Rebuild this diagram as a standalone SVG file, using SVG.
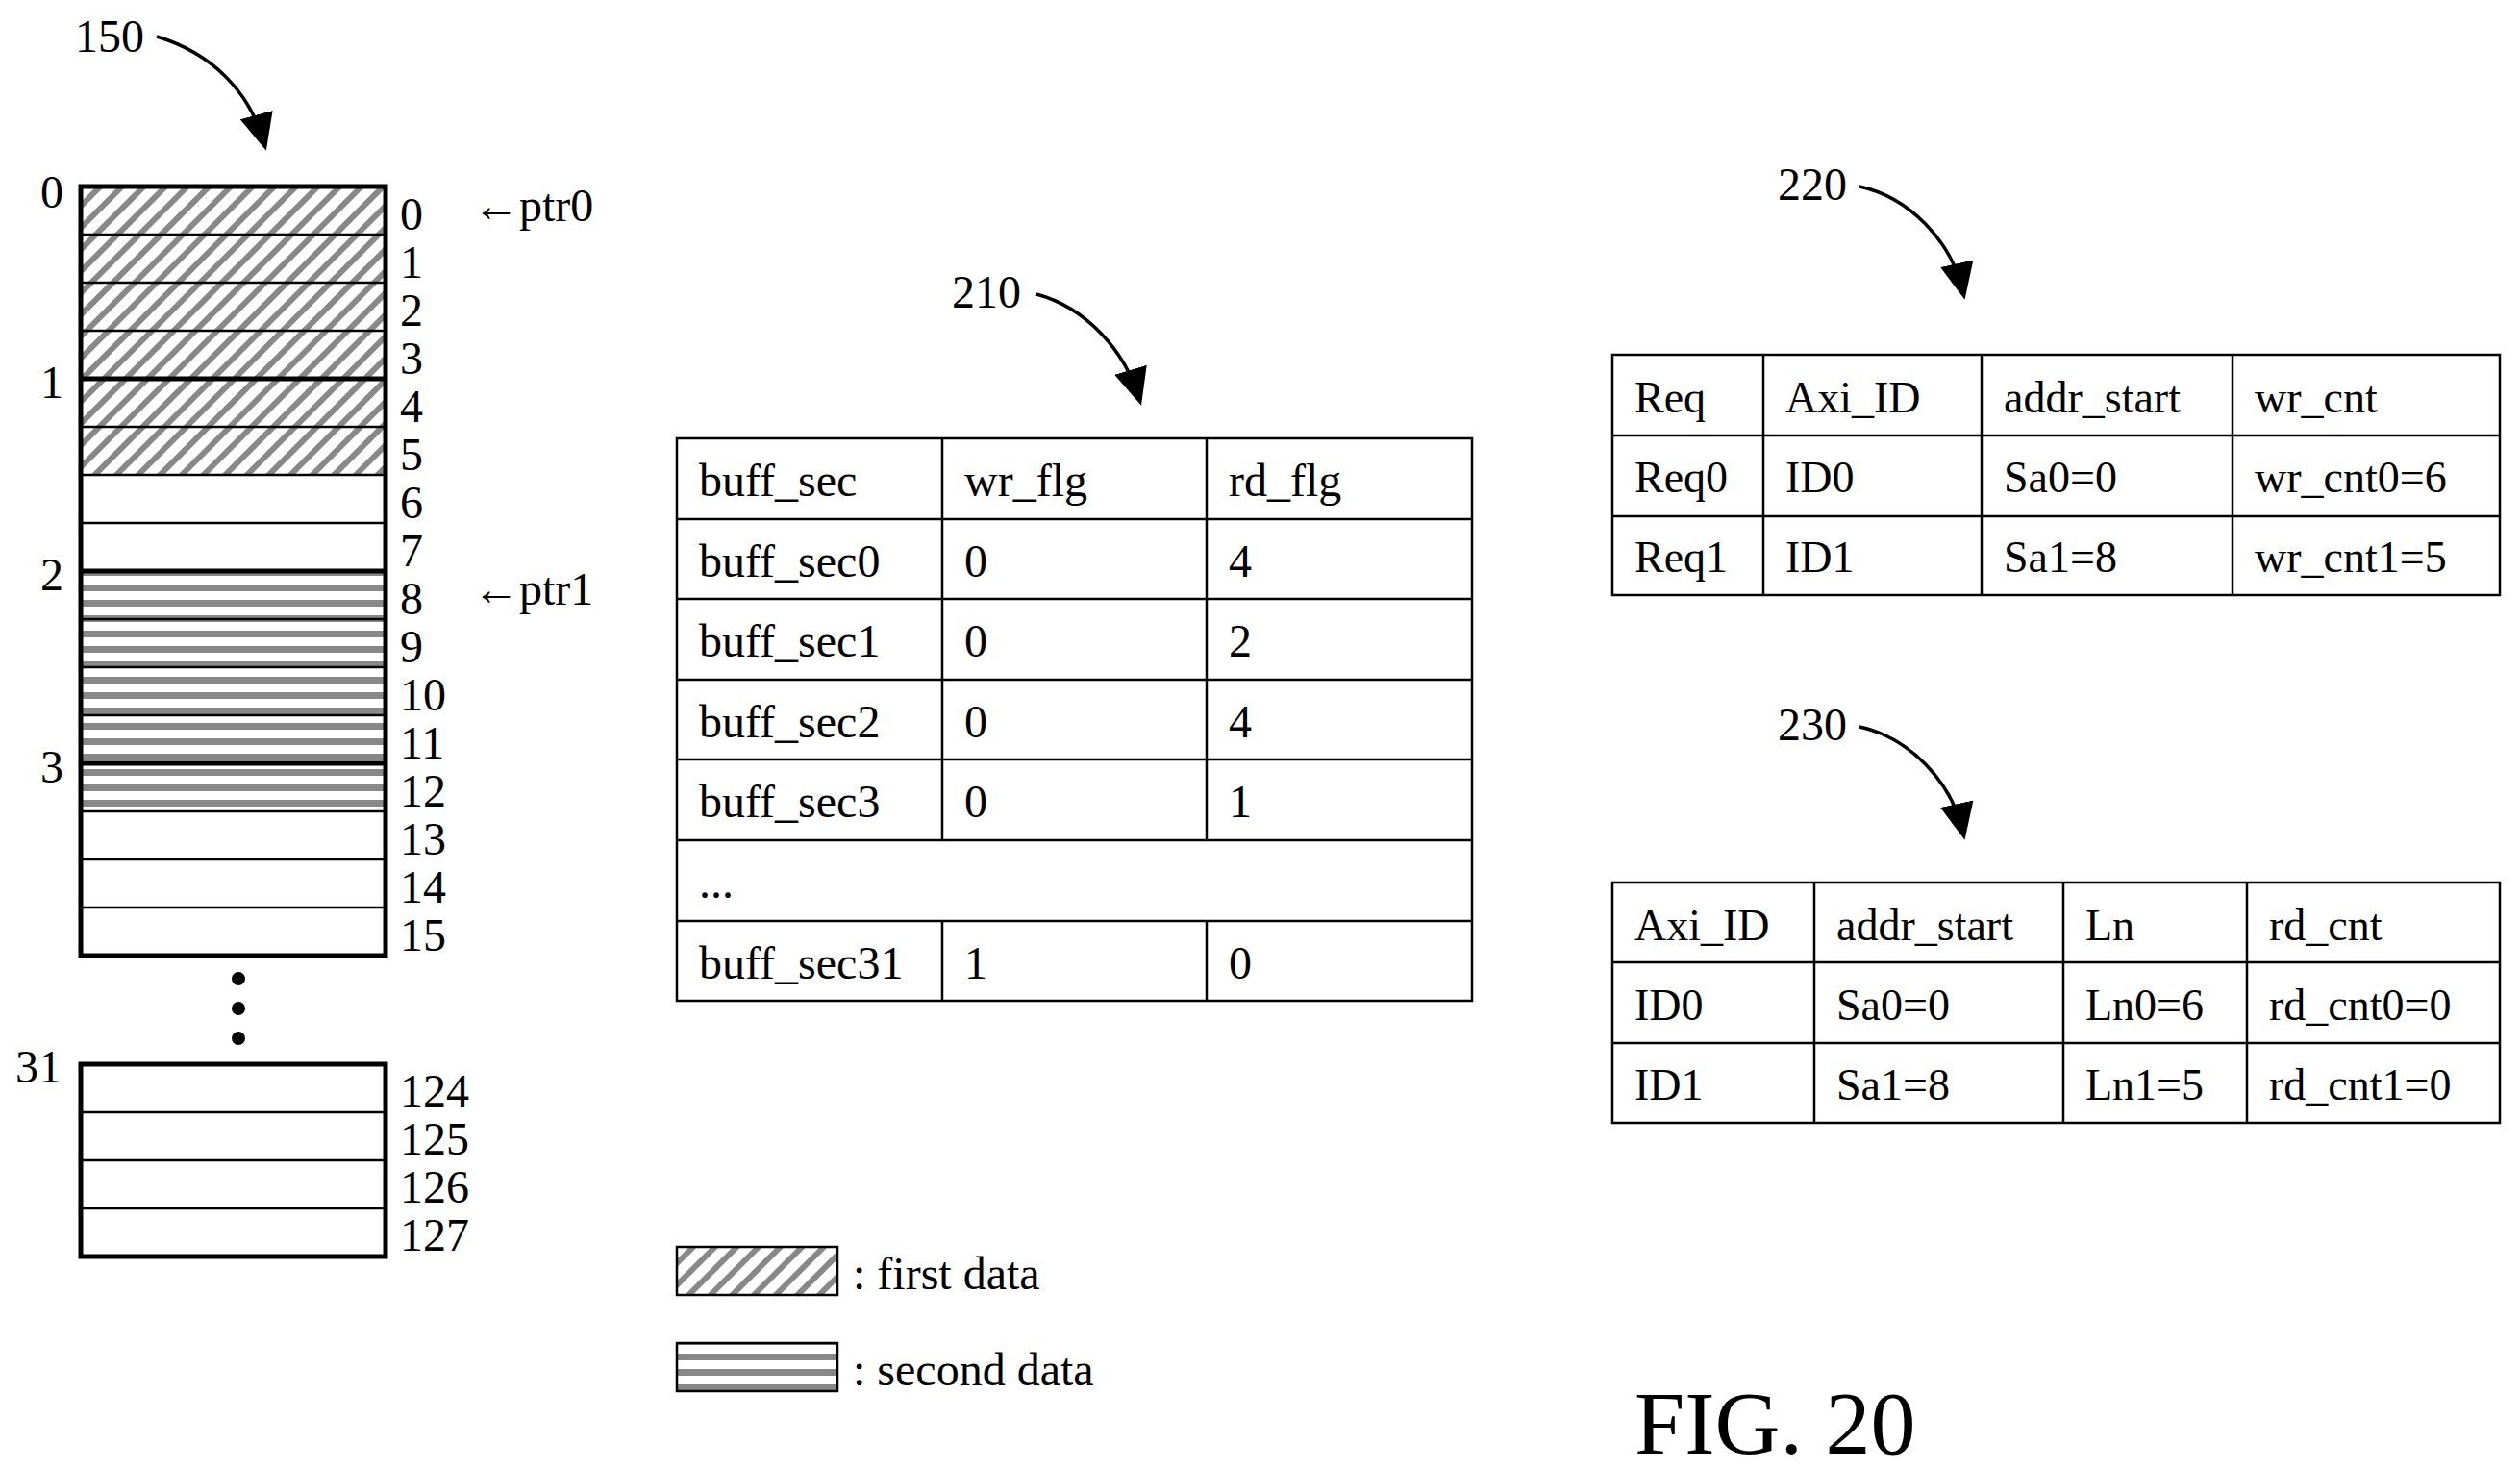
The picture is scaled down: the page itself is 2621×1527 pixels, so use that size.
<svg xmlns="http://www.w3.org/2000/svg" width="2621" height="1527" viewBox="0 0 2621 1527">
<style>
text{font-family:"Liberation Serif","Times New Roman",serif;fill:#000}
.t{font-size:48px}
.s{font-size:46px}
.cell{fill:none;stroke:#000;stroke-width:2.5}
.thin{stroke:#000;stroke-width:2.5}
.thick{stroke:#000;stroke-width:5}
.lead{fill:none;stroke:#000;stroke-width:3.5}
</style>
<defs>
<pattern id="diag" width="16" height="16" patternUnits="userSpaceOnUse" patternTransform="rotate(45)">
<rect width="16" height="16" fill="#fff"/><rect x="0" y="0" width="6" height="16" fill="#888"/>
</pattern>
<pattern id="horz" width="16" height="16" patternUnits="userSpaceOnUse">
<rect width="16" height="16" fill="#fff"/><rect x="0" y="0" width="16" height="7" fill="#888"/>
</pattern>
<marker id="ah" markerWidth="11" markerHeight="10" refX="9" refY="5" orient="auto" markerUnits="strokeWidth">
<path d="M0,0 L11,5 L0,10 Z" fill="#000"/>
</marker>
</defs>
<rect width="2621" height="1527" fill="#fff"/>

<g id="connectors">
<path class="lead" d="M163,38 C220,55 260,95 275,150" marker-end="url(#ah)"/>
<path class="lead" d="M1078,306 C1130,320 1170,365 1185,415" marker-end="url(#ah)"/>
<path class="lead" d="M1934,194 C1985,205 2030,250 2042,305" marker-end="url(#ah)"/>
<path class="lead" d="M1934,756 C1985,767 2030,812 2042,867" marker-end="url(#ah)"/>
</g>

<g id="memory150">
<text class="t" x="78" y="54">150</text>
<rect x="84" y="194" width="317" height="300" fill="url(#diag)"/>
<rect x="84" y="594" width="317" height="250" fill="url(#horz)"/>
<g>
<line class="thin" x1="84" y1="244" x2="401" y2="244"/>
<line class="thin" x1="84" y1="294" x2="401" y2="294"/>
<line class="thin" x1="84" y1="344" x2="401" y2="344"/>
<line class="thick" x1="84" y1="394" x2="401" y2="394"/>
<line class="thin" x1="84" y1="444" x2="401" y2="444"/>
<line class="thin" x1="84" y1="494" x2="401" y2="494"/>
<line class="thin" x1="84" y1="544" x2="401" y2="544"/>
<line class="thick" x1="84" y1="594" x2="401" y2="594"/>
<line class="thin" x1="84" y1="644" x2="401" y2="644"/>
<line class="thin" x1="84" y1="694" x2="401" y2="694"/>
<line class="thin" x1="84" y1="744" x2="401" y2="744"/>
<line class="thick" x1="84" y1="794" x2="401" y2="794"/>
<line class="thin" x1="84" y1="844" x2="401" y2="844"/>
<line class="thin" x1="84" y1="894" x2="401" y2="894"/>
<line class="thin" x1="84" y1="944" x2="401" y2="944"/>
</g>
<rect x="84" y="194" width="317" height="800" fill="none" stroke="#000" stroke-width="5"/>
<g class="t">
<text x="42" y="216">0</text><text x="42" y="414">1</text><text x="42" y="614">2</text><text x="42" y="814">3</text><text x="16" y="1126">31</text>
<text x="416" y="239">0</text><text x="416" y="289">1</text><text x="416" y="339">2</text><text x="416" y="389">3</text>
<text x="416" y="439">4</text><text x="416" y="489">5</text><text x="416" y="539">6</text><text x="416" y="589">7</text>
<text x="416" y="639">8</text><text x="416" y="689">9</text><text x="416" y="739">10</text><text x="416" y="789">11</text>
<text x="416" y="839">12</text><text x="416" y="889">13</text><text x="416" y="939">14</text><text x="416" y="989">15</text>
<text x="416" y="1151">124</text><text x="416" y="1201">125</text><text x="416" y="1251">126</text><text x="416" y="1301">127</text>
<text x="492" y="230">←ptr0</text><text x="492" y="629">←ptr1</text>
</g>
<circle cx="248" cy="1018" r="7"/><circle cx="248" cy="1049" r="7"/><circle cx="248" cy="1080" r="7"/>
<line class="thin" x1="84" y1="1157" x2="401" y2="1157"/>
<line class="thin" x1="84" y1="1207" x2="401" y2="1207"/>
<line class="thin" x1="84" y1="1257" x2="401" y2="1257"/>
<rect x="84" y="1107" width="317" height="200" fill="none" stroke="#000" stroke-width="5"/>
</g>

<g id="table210">
<text class="t" x="990" y="320">210</text>
<rect class="cell" x="704" y="456" width="827" height="585"/>
<line class="thin" x1="704" y1="540" x2="1531" y2="540"/>
<line class="thin" x1="704" y1="623" x2="1531" y2="623"/>
<line class="thin" x1="704" y1="707" x2="1531" y2="707"/>
<line class="thin" x1="704" y1="790" x2="1531" y2="790"/>
<line class="thin" x1="704" y1="874" x2="1531" y2="874"/>
<line class="thin" x1="704" y1="958" x2="1531" y2="958"/>
<line class="thin" x1="980" y1="456" x2="980" y2="874"/><line class="thin" x1="980" y1="958" x2="980" y2="1041"/>
<line class="thin" x1="1255" y1="456" x2="1255" y2="874"/><line class="thin" x1="1255" y1="958" x2="1255" y2="1041"/>
<g class="t">
<text x="727" y="516">buff_sec</text><text x="1003" y="516">wr_flg</text><text x="1278" y="516">rd_flg</text>
<text x="727" y="600">buff_sec0</text><text x="1003" y="600">0</text><text x="1278" y="600">4</text>
<text x="727" y="683">buff_sec1</text><text x="1003" y="683">0</text><text x="1278" y="683">2</text>
<text x="727" y="767">buff_sec2</text><text x="1003" y="767">0</text><text x="1278" y="767">4</text>
<text x="727" y="850">buff_sec3</text><text x="1003" y="850">0</text><text x="1278" y="850">1</text>
<text x="727" y="934">...</text>
<text x="727" y="1018">buff_sec31</text><text x="1003" y="1018">1</text><text x="1278" y="1018">0</text>
</g>
</g>

<g id="table220">
<text class="t" x="1849" y="208">220</text>
<rect class="cell" x="1677" y="369" width="923" height="250"/>
<line class="thin" x1="1677" y1="453" x2="2600" y2="453"/>
<line class="thin" x1="1677" y1="537" x2="2600" y2="537"/>
<line class="thin" x1="1834" y1="369" x2="1834" y2="619"/>
<line class="thin" x1="2061" y1="369" x2="2061" y2="619"/>
<line class="thin" x1="2322" y1="369" x2="2322" y2="619"/>
<g class="s">
<text x="1700" y="429">Req</text><text x="1857" y="429">Axi_ID</text><text x="2084" y="429">addr_start</text><text x="2345" y="429">wr_cnt</text>
<text x="1700" y="512">Req0</text><text x="1857" y="512">ID0</text><text x="2084" y="512">Sa0=0</text><text x="2345" y="512">wr_cnt0=6</text>
<text x="1700" y="595">Req1</text><text x="1857" y="595">ID1</text><text x="2084" y="595">Sa1=8</text><text x="2345" y="595">wr_cnt1=5</text>
</g>
</g>

<g id="table230">
<text class="t" x="1849" y="770">230</text>
<rect class="cell" x="1677" y="918" width="923" height="250"/>
<line class="thin" x1="1677" y1="1001" x2="2600" y2="1001"/>
<line class="thin" x1="1677" y1="1085" x2="2600" y2="1085"/>
<line class="thin" x1="1887" y1="918" x2="1887" y2="1168"/>
<line class="thin" x1="2146" y1="918" x2="2146" y2="1168"/>
<line class="thin" x1="2337" y1="918" x2="2337" y2="1168"/>
<g class="s">
<text x="1700" y="978">Axi_ID</text><text x="1910" y="978">addr_start</text><text x="2169" y="978">Ln</text><text x="2360" y="978">rd_cnt</text>
<text x="1700" y="1061">ID0</text><text x="1910" y="1061">Sa0=0</text><text x="2169" y="1061">Ln0=6</text><text x="2360" y="1061">rd_cnt0=0</text>
<text x="1700" y="1144">ID1</text><text x="1910" y="1144">Sa1=8</text><text x="2169" y="1144">Ln1=5</text><text x="2360" y="1144">rd_cnt1=0</text>
</g>
</g>

<g id="legend">
<rect x="704" y="1297" width="167" height="50" fill="url(#diag)" stroke="#000" stroke-width="2.5"/>
<rect x="704" y="1397" width="167" height="50" fill="url(#horz)" stroke="#000" stroke-width="2.5"/>
<text class="t" x="887" y="1341">: first data</text>
<text class="t" x="887" y="1441">: second data</text>
</g>

<text x="1700" y="1512" style="font-size:94px">FIG. 20</text>
</svg>
